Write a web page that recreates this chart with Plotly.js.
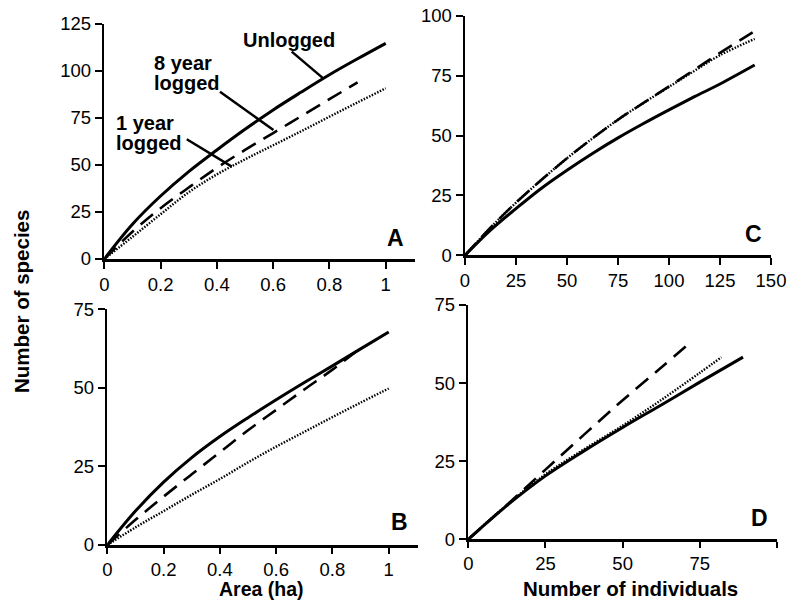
<!DOCTYPE html>
<html>
<head>
<meta charset="utf-8">
<script src="https://cdn.plot.ly/plotly-3.0.1.min.js"></script>
<style>html,body{margin:0;padding:0;background:#fff;}#chart{width:792px;height:602px;}</style>
</head>
<body>
<div id="chart"></div>
<script>
// ---------- data ----------
// Panel A: species vs area (ha)
const A_x = [0, 0.1, 0.2, 0.3, 0.4, 0.5, 0.6, 0.7, 0.8, 0.9, 1.0];
const A_unlogged = [0, 18.5, 33.5, 46.5, 58, 69, 79.3, 88.8, 98, 106.5, 114.7];
const A_x8 = [0, 0.1, 0.2, 0.3, 0.4, 0.5, 0.6, 0.7, 0.8, 0.9];
const A_8yr = [0, 14.5, 27, 38, 48.5, 58, 67, 76, 85, 94];
const A_1yr = [0, 11.8, 23.8, 35.5, 45, 53, 60.5, 68, 75.7, 83.3, 90.8];

// Panel B: species vs area (ha)
const B_x = [0, 0.1, 0.2, 0.3, 0.4, 0.5, 0.6, 0.7, 0.8, 0.9, 1.0];
const B_unlogged = [0, 10.8, 20, 27.8, 34.5, 40.5, 46.2, 51.7, 57, 62.4, 67.8];
const B_x8 = [0, 0.1, 0.2, 0.3, 0.4, 0.5, 0.6, 0.7, 0.8, 0.9];
const B_8yr = [0, 8, 15.4, 22.5, 29.5, 36.5, 43, 49.5, 55.8, 62.7];
const B_1yr = [0, 5.6, 10.8, 16, 21, 26.3, 31.3, 36, 40.7, 45.3, 49.8];

// Panel C: species vs number of individuals
const C_xu = [0, 12.5, 25, 37.5, 50, 62.5, 75, 87.5, 100, 112.5, 125, 142];
const C_unlogged = [0, 10.5, 19.5, 28, 35.5, 42.5, 49, 55, 60.7, 66.2, 71.5, 79.4];
const C_x8 = [0, 12.5, 25, 37.5, 50, 62.5, 75, 87.5, 100, 112.5, 125, 141];
const C_8yr = [0, 11.5, 22, 31.5, 40.5, 48.8, 56.6, 63.6, 70.5, 77.5, 84.5, 93];
const C_x1 = [0, 12.5, 25, 37.5, 50, 62.5, 75, 87.5, 100, 112.5, 125, 142];
const C_1yr = [0, 11.5, 22, 31.5, 40.5, 48.8, 56.6, 63.6, 70.3, 77, 83.5, 90.3];

// Panel D: species vs number of individuals
const D_xu = [0, 12.5, 25, 37.5, 50, 62.5, 75, 89];
const D_unlogged = [0, 10.8, 20.3, 28.3, 35.8, 43, 50.3, 58.3];
const D_x8 = [0, 12.5, 25, 37.5, 50, 62.5, 71.3];
const D_8yr = [0, 11, 22.3, 33.5, 44.5, 55, 62.5];
const D_x1 = [0, 12.5, 25, 37.5, 50, 62.5, 75, 82];
const D_1yr = [0, 11, 20.8, 28.8, 36.4, 44.6, 53.3, 58.3];

// tick labels
const areaTicks = [0, 0.2, 0.4, 0.6, 0.8, 1];
const areaTickText = ['0', '0.2', '0.4', '0.6', '0.8', '1'];
const A_yTicks = [0, 25, 50, 75, 100, 125];
const C_yTicks = [0, 25, 50, 75, 100];
const C_xTicks = [0, 25, 50, 75, 100, 125, 150];
const BD_yTicks = [0, 25, 50, 75];
const D_xTicks = [0, 25, 50, 75, 100];

const panelLabels = ['A', 'B', 'C', 'D'];
const seriesNames = ['Unlogged', '8 year logged', '1 year logged'];

// ---------- styling ----------
const FONT = 'Liberation Sans, Arial, Helvetica, sans-serif';
const solid = {color: '#000', width: 3, shape: 'spline', smoothing: 1};
const dashed = {color: '#000', width: 2.6, dash: '16px,9px', shape: 'spline', smoothing: 1};
const dotted = {color: '#000', width: 2.4, dash: '1.5px,1.5px', shape: 'spline', smoothing: 1};

function tr(x, y, line, xa, ya, name) {
  return {x: x, y: y, type: 'scatter', mode: 'lines', line: line,
          xaxis: xa, yaxis: ya, name: name, showlegend: false, hoverinfo: 'skip'};
}

const data = [
  tr(A_x, A_1yr, dotted, 'x', 'y', seriesNames[2]),
  tr(A_x8, A_8yr, dashed, 'x', 'y', seriesNames[1]),
  tr(A_x, A_unlogged, solid, 'x', 'y', seriesNames[0]),
  tr(B_x, B_1yr, dotted, 'x2', 'y2', seriesNames[2]),
  tr(B_x8, B_8yr, dashed, 'x2', 'y2', seriesNames[1]),
  tr(B_x, B_unlogged, solid, 'x2', 'y2', seriesNames[0]),
  tr(C_x1, C_1yr, dotted, 'x3', 'y3', seriesNames[2]),
  tr(C_x8, C_8yr, dashed, 'x3', 'y3', seriesNames[1]),
  tr(C_xu, C_unlogged, solid, 'x3', 'y3', seriesNames[0]),
  tr(D_x1, D_1yr, dotted, 'x4', 'y4', seriesNames[2]),
  tr(D_x8, D_8yr, dashed, 'x4', 'y4', seriesNames[1]),
  tr(D_xu, D_unlogged, solid, 'x4', 'y4', seriesNames[0])
];

function ax(domain, range, tickvals, ticktext, anchor, tlen) {
  const o = {domain: domain, range: range, tickvals: tickvals, anchor: anchor,
    showline: true, linecolor: '#000', linewidth: 2.5, mirror: false,
    ticks: 'outside', ticklen: tlen || 7, tickwidth: 2, tickcolor: '#000',
    showgrid: false, zeroline: false, fixedrange: true,
    tickfont: {family: FONT, size: 18.5, color: '#000'}};
  if (ticktext) o.ticktext = ticktext;
  return o;
}
const W = 792, H = 602;
const px = v => v / W;
const py = v => (H - v) / H;

const layout = {
  width: W, height: H,
  margin: {l: 0, r: 0, t: 0, b: 0},
  paper_bgcolor: '#fff', plot_bgcolor: 'rgba(0,0,0,0)',
  showlegend: false,
  font: {family: FONT, color: '#000'},
  xaxis:  ax([px(104.3), px(415)], [0, 1.104], areaTicks, areaTickText, 'y'),
  yaxis:  ax([py(259), py(24)], [0, 125], A_yTicks, null, 'x'),
  xaxis2: ax([px(107.3), px(418)], [0, 1.104], areaTicks, areaTickText, 'y2', 6),
  yaxis2: ax([py(545), py(309.3)], [0, 75], BD_yTicks, null, 'x2'),
  xaxis3: ax([px(465), px(771)], [0, 150], C_xTicks, null, 'y3'),
  yaxis3: ax([py(255.3), py(15.7)], [0, 100], C_yTicks, null, 'x3'),
  xaxis4: ax([px(468.3), px(777)], [0, 100], D_xTicks, null, 'y4', 6),
  yaxis4: ax([py(539.3), py(305)], [0, 75], BD_yTicks, null, 'x4'),
  shapes: [
    {type: 'line', xref: 'x', yref: 'y', x0: 0.666, y0: 110.3, x1: 0.778, y1: 96.1, line: {color: '#000', width: 2.5}},
    {type: 'line', xref: 'x', yref: 'y', x0: 0.411, y0: 89.0, x1: 0.601, y1: 68.6, line: {color: '#000', width: 2.5}},
    {type: 'line', xref: 'x', yref: 'y', x0: 0.293, y0: 63.7, x1: 0.453, y1: 49.1, line: {color: '#000', width: 2.5}}
  ],
  annotations: []
};

function note(text, x, y, size, opts) {
  return Object.assign({text: text, xref: 'paper', yref: 'paper', x: px(x), y: py(y),
    xanchor: 'center', yanchor: 'middle', showarrow: false,
    font: {family: FONT, size: size, color: '#000'}}, opts || {});
}
layout.annotations.push(
  note('<b>' + panelLabels[0] + '</b>', 395, 238, 23),
  note('<b>' + panelLabels[1] + '</b>', 399, 522, 23),
  note('<b>' + panelLabels[2] + '</b>', 753, 234, 23),
  note('<b>' + panelLabels[3] + '</b>', 759, 518, 23),
  note('<b>Number of species</b>', 21, 302, 20.5, {textangle: -90}),
  note('<b>Area (ha)</b>', 261, 602, 19.5, {yanchor: 'bottom'}),
  note('<b>Number of individuals</b>', 630, 588, 20.5),
  note('<b>Unlogged</b>', 289.3, 40, 20),
  note('<b>8 year</b>', 151.7, 63, 20, {xanchor: 'left'}),
  note('<b>logged</b>', 151.7, 83, 20, {xanchor: 'left'}),
  note('<b>1 year</b>', 114.3, 123, 20, {xanchor: 'left'}),
  note('<b>logged</b>', 114.3, 143, 20, {xanchor: 'left'})
);

Plotly.newPlot('chart', data, layout, {displayModeBar: false, staticPlot: true});
</script>
</body>
</html>
